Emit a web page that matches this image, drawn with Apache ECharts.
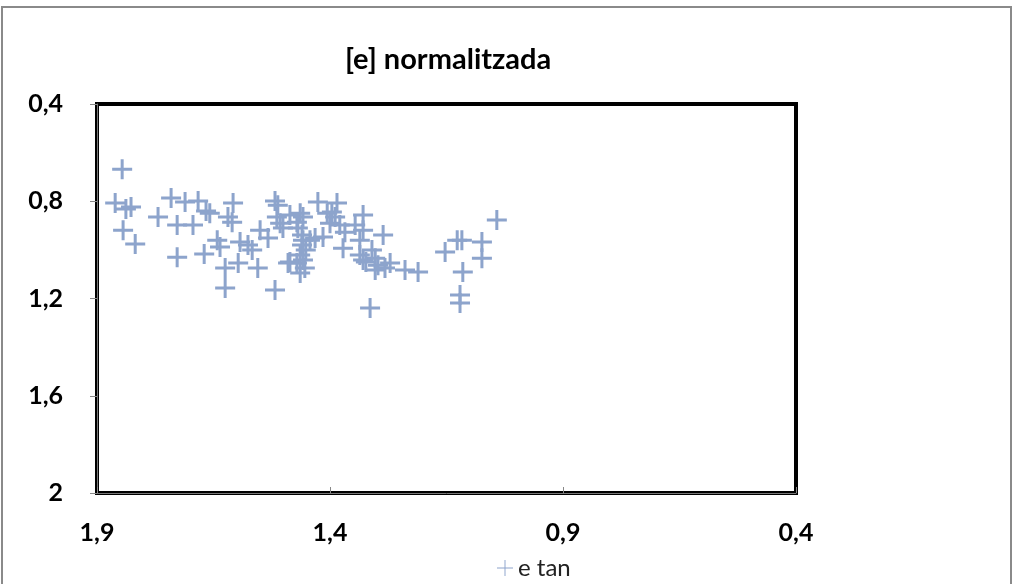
<!DOCTYPE html>
<html>
<head>
<meta charset="utf-8">
<script src="https://cdn.jsdelivr.net/npm/echarts@6/dist/echarts.min.js"></script>
<style>
  html, body { margin: 0; padding: 0; background: #fff; }
  #chart { width: 1015px; height: 584px; }
</style>
</head>
<body>
<div id="chart"></div>
<script>
// Normalised [e] measurements: x = first value, y = second value
const seriesName = 'e tan';
const xValues = [
  1.846, 1.861, 1.838, 1.827, 1.844, 1.818, 1.769, 1.741, 1.711, 1.683,
  1.666, 1.728, 1.694, 1.728, 1.670, 1.658, 1.608, 1.619, 1.610, 1.518,
  1.514, 1.507, 1.550, 1.642, 1.636, 1.593, 1.576, 1.567, 1.625, 1.597,
  1.555, 1.625, 1.518, 1.486, 1.464, 1.458, 1.471, 1.426, 1.396, 1.389,
  1.415, 1.460, 1.458, 1.471, 1.458, 1.454, 1.464, 1.490, 1.385, 1.406,
  1.400, 1.329, 1.329, 1.286, 1.372, 1.336, 1.329, 1.303, 1.297, 1.303,
  1.271, 1.239, 1.211, 1.314, 1.042, 1.153, 1.127, 1.117, 1.074, 1.074,
  1.115, 1.121, 1.121, 1.469, 1.460, 1.464, 1.452, 1.443, 1.432, 1.379,
  1.368, 1.346, 1.336, 1.323, 1.310, 1.282, 1.512, 1.486, 1.501, 1.533
];
const yValues = [
  0.668, 0.807, 0.832, 0.824, 0.919, 0.976, 0.865, 0.787, 0.803, 0.799,
  0.840, 0.898, 0.898, 1.030, 1.017, 0.849, 0.807, 0.865, 0.886, 0.799,
  0.865, 0.890, 0.919, 0.960, 0.988, 0.968, 0.980, 1.001, 1.075, 1.054,
  1.075, 1.157, 1.165, 1.050, 0.849, 0.865, 0.886, 0.803, 0.844, 0.865,
  0.947, 0.939, 0.960, 1.054, 1.042, 1.075, 1.095, 1.054, 0.807, 0.849,
  0.890, 0.857, 0.919, 0.939, 0.993, 1.021, 1.042, 1.034, 1.063, 1.083,
  1.054, 1.083, 1.091, 1.239, 0.877, 1.009, 0.960, 0.960, 0.968, 1.034,
  1.091, 1.186, 1.219, 0.910, 0.980, 1.021, 1.001, 0.960, 0.951, 0.898,
  0.927, 0.898, 0.960, 1.050, 1.001, 1.075, 0.816, 0.857, 0.910, 0.951
];
const xTicks = [0.4, 0.9, 1.4, 1.9];
const yTicks = [0.4, 0.8, 1.2, 1.6, 2];

const points = xValues.map((x, i) => [x, yValues[i]]);
const commaDecimal = v => String(v).replace('.', ',');

const markerColor = '#8DA4CC';
const plusThick = 'path://M8.5,0h3v8.5h8.5v3h-8.5v8.5h-3v-8.5h-8.5v-3h8.5z';
const plusThin = 'path://M9.4,0h1.2v9.4h9.4v1.2h-9.4v9.4h-1.2v-9.4h-9.4v-1.2h9.4z';
const fontFamily = 'Lato, "Open Sans", sans-serif';

const chart = echarts.init(document.getElementById('chart'));
chart.setOption({
  animation: false,
  backgroundColor: '#fff',
  textStyle: { fontFamily },
  title: {
    text: '[e] normalitzada',
    left: 340,
    top: 40,
    textStyle: { fontFamily, fontSize: 29, fontWeight: 'bold', color: '#000' }
  },
  graphic: [{
    type: 'rect',
    shape: { x: 2, y: 7, width: 1009, height: 600 },
    style: { fill: 'none', stroke: '#8a8a8a', lineWidth: 2 },
    silent: true,
    z: -10
  }],
  legend: {
    left: 492,
    top: 551,
    itemWidth: 16,
    itemHeight: 16,
    itemGap: 4,
    data: [{ name: seriesName, icon: plusThin }],
    textStyle: { fontFamily, fontSize: 24, color: '#222' }
  },
  grid: {
    left: 97, right: 219, top: 104, bottom: 91,
    show: true,
    borderColor: '#000',
    borderWidth: 4,
    backgroundColor: '#fff'
  },
  xAxis: {
    type: 'value',
    min: 0.4,
    max: 1.9,
    inverse: true,
    axisLine: { show: true, lineStyle: { color: '#777', width: 1 } },
    axisTick: { show: true, inside: true, length: 6, customValues: xTicks, lineStyle: { color: '#888' } },
    axisLabel: {
      customValues: xTicks,
      formatter: commaDecimal,
      margin: 27,
      fontFamily, fontSize: 25, fontWeight: 'bold', color: '#000'
    },
    splitLine: { show: false }
  },
  yAxis: {
    type: 'value',
    min: 0.4,
    max: 2,
    interval: 0.4,
    inverse: true,
    axisLine: { show: true, lineStyle: { color: '#777', width: 1 } },
    axisTick: { show: true, length: 7, lineStyle: { color: '#888' } },
    axisLabel: {
      formatter: commaDecimal,
      margin: 34,
      fontFamily, fontSize: 25, fontWeight: 'bold', color: '#000'
    },
    splitLine: { show: false }
  },
  series: [{
    name: seriesName,
    type: 'scatter',
    data: points,
    symbol: plusThick,
    symbolSize: 20,
    itemStyle: { color: markerColor, opacity: 1 }
  }]
});
</script>
</body>
</html>
